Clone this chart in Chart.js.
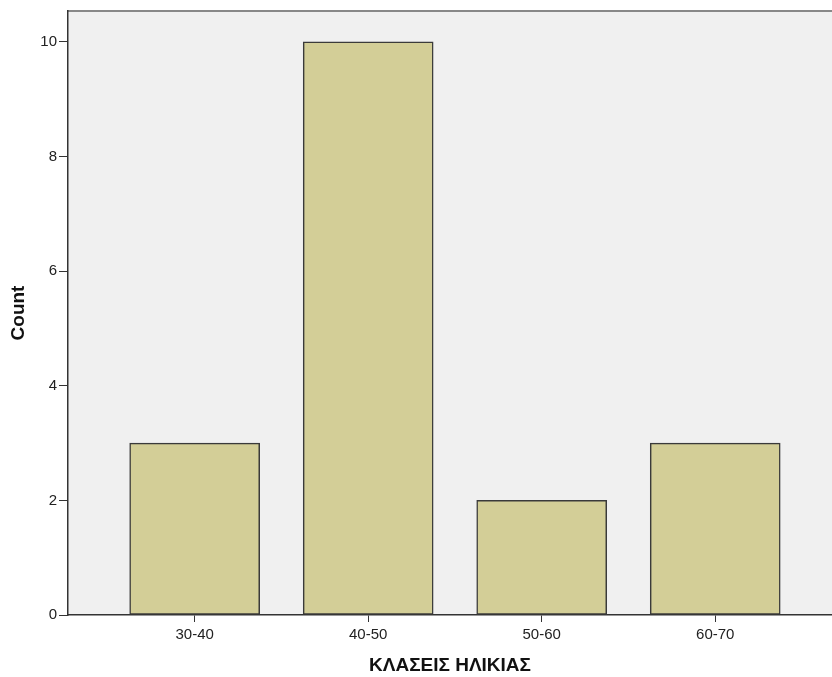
<!DOCTYPE html>
<html>
<head>
<meta charset="utf-8">
<script src="https://cdn.jsdelivr.net/npm/chart.js@4/dist/chart.umd.min.js"></script>
<style>
  body { margin: 0; background: #fff; }
  canvas { display: block; }
</style>
</head>
<body>
<canvas id="grafico" width="832" height="677"></canvas>
<script>
const categorias = ["30-40", "40-50", "50-60", "60-70"];
const conteos = [3, 10, 2, 3];
const ticksY = [0, 2, 4, 6, 8, 10];
const tituloX = "ΚΛΑΣΕΙΣ ΗΛΙΚΙΑΣ";
const tituloY = "Count";

const fuente = "'Liberation Sans', Arial, sans-serif";

// fondo gris del area y linea superior
const fondoPlot = {
  id: "fondoPlot",
  beforeDraw(chart) {
    const { ctx, chartArea: a } = chart;
    ctx.save();
    ctx.fillStyle = "#f0f0f0";
    ctx.fillRect(a.left, a.top, a.right - a.left, a.bottom - a.top);
    ctx.strokeStyle = "#888888";
    ctx.lineWidth = 2;
    ctx.beginPath();
    ctx.moveTo(a.left, a.top);
    ctx.lineTo(a.right, a.top);
    ctx.stroke();
    ctx.restore();
  }
};

const ctx = document.getElementById("grafico").getContext("2d");
new Chart(ctx, {
  type: "bar",
  data: {
    datasets: [{
      data: conteos.map((v, i) => ({ x: i, y: v })),
      backgroundColor: "#d3ce97",
      borderColor: "#3a3a3a",
      borderWidth: 1.5,
      borderSkipped: false,
      barThickness: 130
    }]
  },
  options: {
    responsive: false,
    animation: false,
    layout: { padding: { top: 11, left: 0, right: 0, bottom: 0 } },
    plugins: { legend: { display: false }, tooltip: { enabled: false } },
    scales: {
      x: {
        type: "linear",
        min: -0.73,
        max: 3.673,
        offset: false,
        afterBuildTicks: s => { s.ticks = categorias.map((c, i) => ({ value: i })); },
        afterFit: s => { s.height = 62; },
        ticks: {
          callback: (v) => categorias[v],
          color: "#222",
          font: { family: fuente, size: 15 },
          padding: 4,
          maxRotation: 0
        },
        grid: { offset: false, drawOnChartArea: false, drawTicks: true, tickLength: 7, tickColor: "#333" },
        border: { color: "#333", width: 1.5 },
        title: {
          display: true,
          text: tituloX,
          color: "#111",
          font: { family: fuente, size: 19, weight: "bold" },
          padding: { top: 0, bottom: 0 }
        }
      },
      y: {
        min: 0,
        max: 10.54,
        afterBuildTicks: s => { s.ticks = ticksY.map(v => ({ value: v })); },
        afterFit: s => { s.width = 68; },
        ticks: {
          color: "#222",
          font: { family: fuente, size: 15 },
          padding: 2
        },
        grid: { drawOnChartArea: false, drawTicks: true, tickLength: 9, tickColor: "#333" },
        border: { color: "#333", width: 1.5 },
        title: {
          display: true,
          text: tituloY,
          color: "#111",
          font: { family: fuente, size: 19, weight: "bold" },
          padding: { top: 7, bottom: 0 }
        }
      }
    }
  },
  plugins: [fondoPlot]
});
</script>
</body>
</html>
